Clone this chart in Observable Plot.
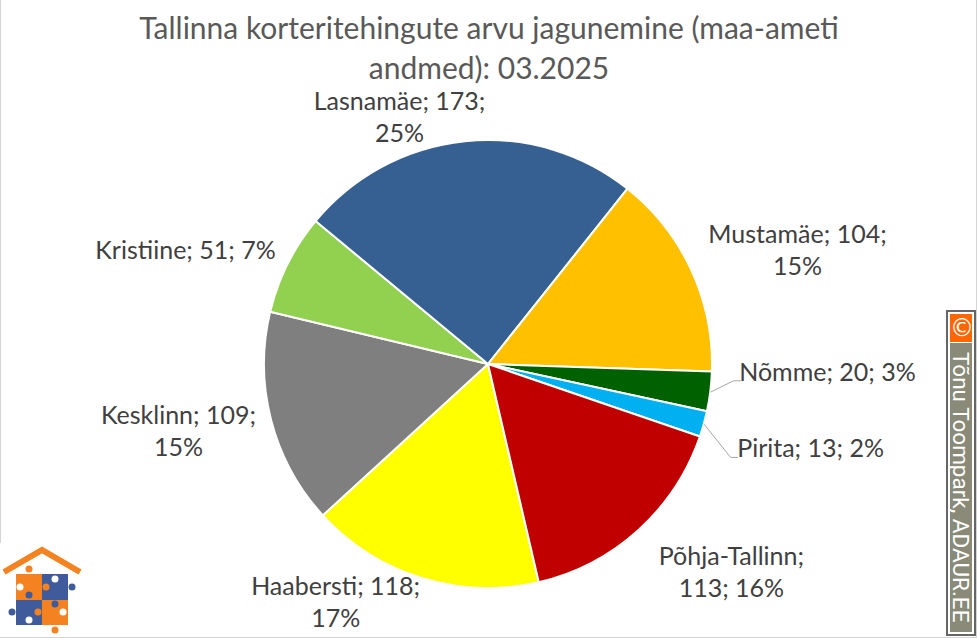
<!DOCTYPE html>
<html><head><meta charset="utf-8">
<script src="https://cdn.jsdelivr.net/npm/d3@7"></script>
<script src="https://cdn.jsdelivr.net/npm/@observablehq/plot@0.6"></script>
<style>
html,body{margin:0;padding:0;background:#fff}
#wrap{position:relative;width:977px;height:638px;overflow:hidden}
#wrap svg.plot{display:block}
#wrap svg.plot text{font-variant-ligatures:none;font-feature-settings:"liga" 0}
#frame{position:absolute;left:0;top:-2px;width:975px;height:638px;border:1px solid #d4d4d4;pointer-events:none}
#stamp{position:absolute;left:946px;top:310px;width:26px;height:322px;border:2px solid #666;background:#fff}
#stamp .c{position:absolute;left:2px;top:2px;width:22px;height:28px;background:#ff6600;color:#fff;font:24px/28px "DejaVu Sans";text-align:center}
#stamp .t{position:absolute;left:2px;top:31px;width:22px;height:289px;background:#8a8a78;color:#fff;font:22.5px/22px Roboto;writing-mode:vertical-rl;white-space:nowrap;overflow:hidden;text-align:center}
#logo{position:absolute;left:0;top:543px}
</style></head><body>
<div id="wrap"><div id="chart"></div><div id="frame"></div>
<div id="stamp"><div class="c">©</div><div class="t">Tõnu Toompark, ADAUR.EE</div></div>
<svg id="logo" width="84" height="94" viewBox="0 543 84 94">
<rect x="0" y="543" width="84" height="94" fill="#fff"/>
<polyline points="4,572 42,550 80,572" fill="none" stroke="#f58220" stroke-width="6"/>
<rect x="16" y="574" width="26" height="26" fill="#f58220"/><rect x="42" y="574" width="26" height="26" fill="#3f5b9b"/>
<rect x="16" y="600" width="26" height="25" fill="#3f5b9b"/><rect x="42" y="600" width="26" height="25" fill="#f58220"/>
<circle cx="29" cy="569" r="3.5" fill="#f58220"/><circle cx="72" cy="587" r="3.5" fill="#3f5b9b"/><circle cx="12" cy="612" r="3.5" fill="#3f5b9b"/><circle cx="55" cy="630" r="3.5" fill="#f58220"/>
<circle cx="46" cy="587" r="3.5" fill="#f58220"/><circle cx="29" cy="595" r="3.5" fill="#3f5b9b"/><circle cx="38" cy="612" r="3.5" fill="#f58220"/><circle cx="55" cy="604" r="3.5" fill="#3f5b9b"/>
<circle cx="20" cy="587" r="3.5" fill="#fff"/><circle cx="55" cy="579" r="3.5" fill="#fff"/><circle cx="29" cy="620" r="3.5" fill="#fff"/><circle cx="63" cy="612" r="3.5" fill="#fff"/>
</svg></div>
<script>
const districts = ["Haabersti","Kesklinn","Kristiine","Lasnamäe","Mustamäe","Nõmme","Pirita","Põhja-Tallinn"];
const deals = [118,109,51,173,104,20,13,113];
const shares = [17,15,7,25,15,3,2,16];
const colors = ["#FFFF00","#7F7F7F","#92D050","#366092","#FFC000","#006100","#00B0F0","#C00000"];
const titleLines = ["Tallinna korteritehingute arvu jagunemine (maa-ameti","andmed): 03.2025"];

// layout
const W=977,H=638,R=224,CX=488,CY=364,firstAngle=166.9;
const labelAngle=[212.7,257.8,290.6,340.2,69.8,91.4,104.6,130.6];
const labelRadius=[1.263,1.416,1.445,1.172,1.470,1.514,1.486,1.428];
const labelBreak=[2,2,0,2,2,0,0,1]; // 2: before share, 1: before value, 0: one line
const rad=d=>d*Math.PI/180;
const polar=(a,r)=>[r*Math.sin(rad(a)),r*Math.cos(rad(a))];

const pie=d3.pie().sort(null).startAngle(rad(firstAngle)).endAngle(rad(firstAngle+360));
const arcs=pie(deals).map((a,i)=>({...a,name:districts[i],color:colors[i]}));
const labelRows=districts.map((n,i)=>{
  const [x,y]=polar(labelAngle[i],labelRadius[i]);
  const sep=labelBreak[i];
  const text=`${n};${sep===1?"\n":" "}${deals[i]};${sep===2?"\n":" "}${shares[i]}%`;
  return {x,y,text};
});
// leaders for the two thin slices: [slice index, elbow offset left of label, elbow drop]
const leaders=[[5,94/R,8/R],[6,80/R,9/R]].flatMap(([i,dx,dy])=>{
  const mid=(arcs[i].startAngle+arcs[i].endAngle)/2*180/Math.PI;
  const [sx,sy]=polar(mid,1), l=labelRows[i];
  return [{k:i,x:sx,y:sy},{k:i,x:l.x-dx,y:l.y-dy},{k:i,x:l.x-dx+7/R,y:l.y-dy}];
});

const slices=(index,{x,y})=>{
  const g=d3.create("svg:g").attr("transform",`translate(${x(0)},${y(0)})`);
  const r=x(1)-x(0);
  const arc=d3.arc().innerRadius(0).outerRadius(r);
  g.selectAll("path").data(arcs).join("path").attr("d",arc).attr("fill",d=>d.color)
    .attr("stroke","#fff").attr("stroke-width",2).attr("stroke-linejoin","round");
  return g.node();
};

const font="Lato, Carlito, sans-serif";
const plot=Plot.plot({
  width:W,height:H,margin:0,
  style:{background:"transparent",fontFamily:font},
  x:{domain:[-CX/R,(W-CX)/R],range:[0,W],axis:null},
  y:{domain:[CY/R,(CY-H)/R],range:[0,H],axis:null},
  marks:[
    slices,
    Plot.line(leaders,{x:"x",y:"y",z:"k",stroke:"#a6a6a6",strokeWidth:1,curve:"linear"}),
    Plot.text(labelRows,{x:"x",y:"y",text:"text",dy:-2,fontSize:25,fill:"#404040",lineHeight:1.3,fontFamily:font}),
    Plot.text(titleLines.slice(0,1),{frameAnchor:"top",text:d=>d,fontSize:30,fill:"#595959",fontFamily:font,lineAnchor:"top",dy:17}),
    Plot.text(titleLines.slice(1),{frameAnchor:"top",text:d=>d,fontSize:30,fill:"#595959",fontFamily:font,lineAnchor:"top",dy:57})
  ]
});
document.getElementById("chart").append(plot);
</script></body></html>
